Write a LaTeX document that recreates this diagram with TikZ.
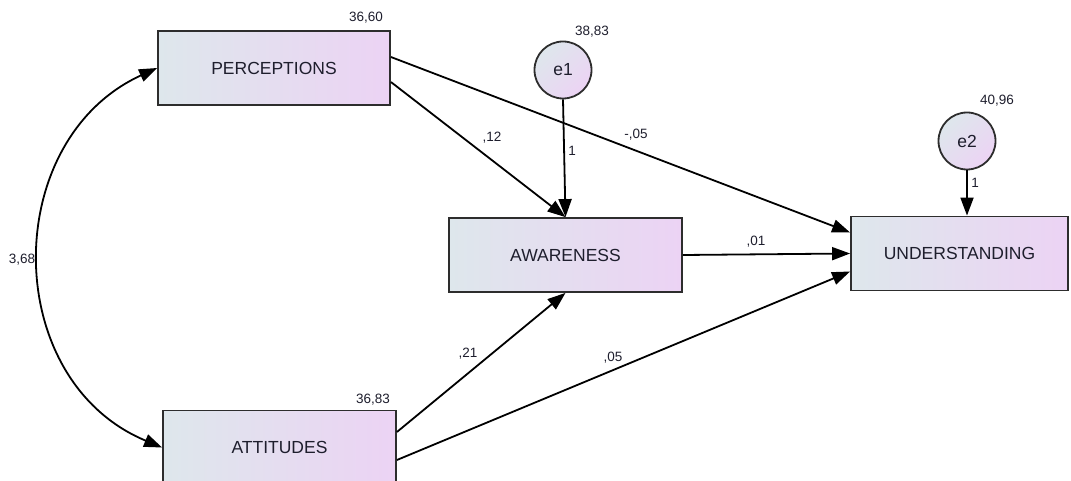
\documentclass[tikz,border=0pt]{standalone}
\usepackage{fontspec}
\setmainfont{Liberation Sans}
\usetikzlibrary{arrows.meta,calc}
\definecolor{gleft}{RGB}{222,231,236}
\definecolor{gright}{RGB}{236,211,244}
\definecolor{bordc}{RGB}{45,45,45}
\definecolor{txtc}{RGB}{30,30,45}
\tikzset{
  varbox/.style={draw=bordc, line width=1.8pt, left color=gleft, right color=gright,
    minimum height=74pt, inner sep=0pt, font=\fontsize{17.5}{19}\selectfont, text=txtc},
  errc/.style={circle, draw=bordc, line width=1.8pt, top color=gleft, bottom color=gright,
    shading angle=45, minimum size=57pt, inner sep=0pt, font=\fontsize{17.5}{19}\selectfont, text=txtc},
  num/.style={font=\fontsize{13.5}{15}\selectfont, text=txtc, inner sep=0pt},
  path/.style={line width=1.8pt, draw=black, -{Triangle[length=18pt,width=13pt]}},
  cov/.style={line width=1.8pt, draw=black, {Triangle[length=18pt,width=13pt]}-{Triangle[length=18pt,width=13pt]}}
}
\begin{document}
\begin{tikzpicture}[x=1pt,y=-1pt]
\useasboundingbox (0,0) rectangle (1071,481);
\clip (0,0) rectangle (1071,481);
\node[varbox, minimum width=232pt] (perc) at (274,68) {PERCEPTIONS};
\node[varbox, minimum width=233pt] (att) at (279.5,447.5) {ATTITUDES};
\node[varbox, minimum width=233pt] (aw) at (565.5,255) {AWARENESS};
\node[varbox, minimum width=217pt] (und) at (959.5,253.5) {UNDERSTANDING};
\node[errc] (e1) at (563,70) {e1};
\node[errc] (e2) at (967,141) {e2};

\node[num] (vperc) at (366,18) {36,60};
\node[num] (ve1) at (592,32) {38,83};
\node[num] (ve2) at (997,101) {40,96};
\node[num] (vatt) at (373,399.5) {36,83};

\draw[path] ($(perc.east)+(0,-11)$) -- ($(und.west)+(0,-21)$);
\node[num] (l1) at (636,135) {-,05};
\draw[path] ($(perc.east)+(0,14)$) -- (aw.north);
\node[num] (l2) at (492,138) {,12};
\draw[path] (e1.south) -- (aw.north);
\node[num] (l3) at (572,151) {1};
\draw[path] (aw.east) -- (und.west);
\node[num] (l4) at (756,242) {,01};
\draw[path] ($(att.east)+(0,-15.5)$) -- (aw.south);
\node[num] (l5) at (468,354) {,21};
\draw[path] ($(att.east)+(0,12.5)$) -- ($(und.west)+(0,18)$);
\node[num] (l6) at (613,358) {,05};
\draw[path] (e2.south) -- (e2.south |- und.north);
\node[num] (l7) at (975,183) {1};

\draw[cov] (perc.west) .. controls (0,140) and (0,380) .. (att.west);
\node[num] (l8) at (22,260) {3,68};
\end{tikzpicture}
\end{document}
